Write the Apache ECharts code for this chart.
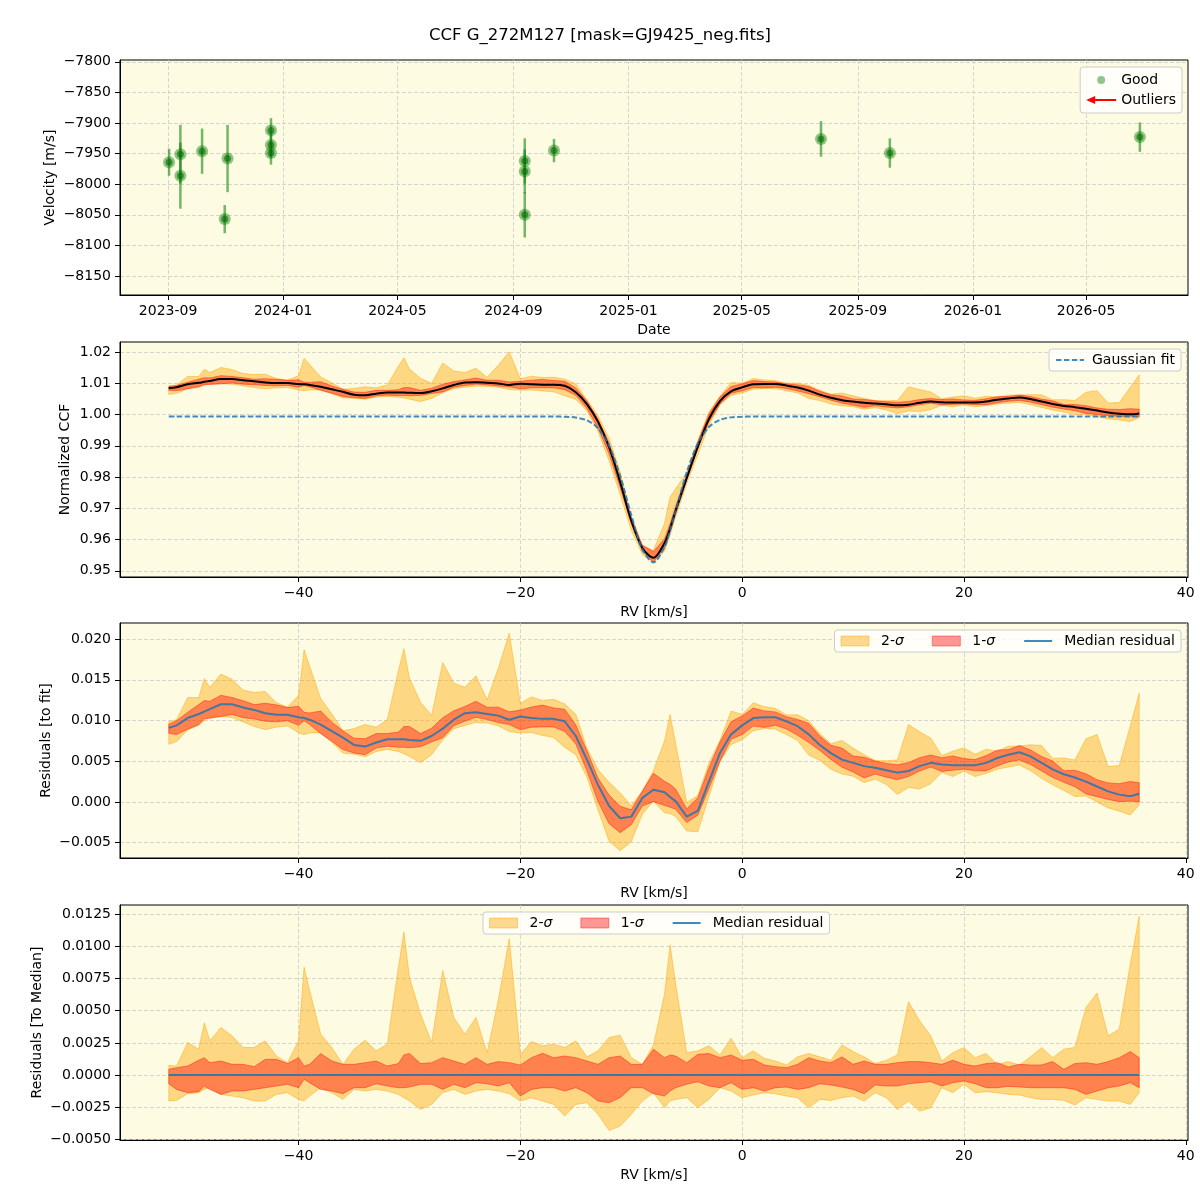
<!DOCTYPE html>
<html>
<head>
<meta charset="utf-8">
<script src="https://cdn.jsdelivr.net/npm/echarts@6/dist/echarts.min.js"></script>
<style>
 html, body { margin: 0; background: #fff; }
 #chart { width: 1200px; height: 1200px; }
</style>
</head>
<body>
<div id="chart"></div>
<script>
// --- RV time series (top panel) ---
const obsDates = ['2023-09-02', '2023-09-14', '2023-09-14', '2023-10-07', '2023-10-31', '2023-11-03',
 '2023-12-19', '2023-12-19', '2023-12-19', '2024-09-13', '2024-09-13', '2024-09-13',
 '2024-10-14', '2025-07-24', '2025-10-05', '2026-06-27']
const obsVel = [-7964, -7951, -7986, -7946, -8057, -7958,
 -7912, -7936, -7949, -7962, -7979, -8050,
 -7945, -7926, -7949, -7923]
const obsErr = [22, 48, 54, 37, 23, 55,
 20, 20, 19, 37, 36, 37,
 19, 29, 24, 24]

// --- CCF grid [km/s] ---
const rv = [
 -51.7, -51, -50, -49, -48.5, -48, -47, -46, -45, -44,
 -43, -42, -41, -40, -39.5, -39, -38, -37, -36, -35,
 -34, -33, -32, -31, -30.5, -30, -29, -28, -27, -26,
 -25, -24, -23, -22, -21, -20, -19, -18, -17, -16,
 -15, -14, -13, -12, -11, -10, -9, -8, -7, -6.5,
 -6, -5, -4, -3, -2, -1, 0, 1, 2, 3,
 4, 5, 6, 7, 8, 9, 10, 11, 12, 13,
 14, 15, 16, 17, 18, 19, 20, 21, 22, 23,
 24, 25, 26, 27, 28, 29, 30, 31, 32, 33,
 34, 35, 35.8
]

// gaussian fit to the CCF
const gaussFit = [
 0.99935, 0.99935, 0.99935, 0.99935, 0.99935, 0.99935, 0.99935, 0.99935, 0.99935, 0.99935,
 0.99935, 0.99935, 0.99935, 0.99935, 0.99935, 0.99935, 0.99935, 0.99935, 0.99935, 0.99935,
 0.99935, 0.99935, 0.99935, 0.99935, 0.99935, 0.99935, 0.99935, 0.99935, 0.99935, 0.99935,
 0.99935, 0.99935, 0.99935, 0.99935, 0.99935, 0.99935, 0.99935, 0.99935, 0.99934, 0.99928,
 0.99903, 0.99815, 0.99563, 0.99003, 0.98035, 0.96782, 0.95680, 0.95265, 0.95768, 0.96291,
 0.96909, 0.98149, 0.99077, 0.99600, 0.99829, 0.99908, 0.99929, 0.99935, 0.99935, 0.99935,
 0.99935, 0.99935, 0.99935, 0.99935, 0.99935, 0.99935, 0.99935, 0.99935, 0.99935, 0.99935,
 0.99935, 0.99935, 0.99935, 0.99935, 0.99935, 0.99935, 0.99935, 0.99935, 0.99935, 0.99935,
 0.99935, 0.99935, 0.99935, 0.99935, 0.99935, 0.99935, 0.99935, 0.99935, 0.99935, 0.99935,
 0.99935, 0.99935, 0.99935
]

// median residual (CCF - fit)
const medResid = [
 0.0091, 0.0094, 0.0103, 0.0108, 0.0111, 0.0114, 0.0120, 0.0120, 0.0116, 0.0113,
 0.0109, 0.0107, 0.0107, 0.0104, 0.0103, 0.0101, 0.0095, 0.0087, 0.0079, 0.0070,
 0.0068, 0.0073, 0.0077, 0.0077, 0.0077, 0.0076, 0.0075, 0.0081, 0.0090, 0.0101,
 0.0109, 0.0110, 0.0108, 0.0106, 0.0101, 0.0105, 0.0103, 0.0102, 0.0102, 0.0099,
 0.0081, 0.0052, 0.0021, -0.0005, -0.0020, -0.0018, 0.0005, 0.0015, 0.0012, 0.0006,
 0.0001, -0.0018, -0.0011, 0.0025, 0.0060, 0.0083, 0.0094, 0.0103, 0.0104, 0.0104,
 0.0099, 0.0093, 0.0083, 0.0070, 0.0060, 0.0052, 0.0048, 0.0044, 0.0042, 0.0039,
 0.0036, 0.0038, 0.0044, 0.0048, 0.0046, 0.0045, 0.0045, 0.0045, 0.0048, 0.0054,
 0.0058, 0.0061, 0.0056, 0.0048, 0.0040, 0.0034, 0.0030, 0.0025, 0.0019, 0.0013,
 0.0009, 0.0007, 0.0010
]

// band edges relative to the median
const hi2 = [
 7.6e-4, 7.0e-4, 25.3e-4, 20.1e-4, 40.6e-4, 26.6e-4, 37.0e-4, 30.5e-4, 21.4e-4, 21.4e-4,
 26.6e-4, 14.8e-4, 9.6e-4, 26.6e-4, 83.9e-4, 65.6e-4, 31.8e-4, 21.4e-4, 8.3e-4, 20.1e-4,
 27.1e-4, 18.8e-4, 24.0e-4, 83.9e-4, 111.2e-4, 76.0e-4, 47.4e-4, 25.3e-4, 81.3e-4, 44.8e-4,
 31.8e-4, 44.8e-4, 17.4e-4, 57.8e-4, 106.0e-4, 16.1e-4, 26.0e-4, 22.7e-4, 24.0e-4, 21.4e-4,
 26.6e-4, 14.1e-4, 18.8e-4, 29.2e-4, 31.0e-4, 13.5e-4, 8.3e-4, 23.4e-4, 63.0e-4, 101.3e-4,
 70.8e-4, 17.4e-4, 18.8e-4, 22.7e-4, 15.6e-4, 28.6e-4, 13.5e-4, 18.8e-4, 13.0e-4, 10.9e-4,
 7.8e-4, 14.1e-4, 16.7e-4, 14.1e-4, 11.5e-4, 23.4e-4, 18.2e-4, 14.1e-4, 8.9e-4, 11.5e-4,
 15.6e-4, 57.0e-4, 42.2e-4, 30.5e-4, 10.9e-4, 17.4e-4, 21.4e-4, 13.5e-4, 16.7e-4, 8.3e-4,
 10.4e-4, 7.8e-4, 14.1e-4, 21.4e-4, 13.5e-4, 20.1e-4, 21.4e-4, 52.6e-4, 63.8e-4, 30.5e-4,
 35.7e-4, 86.5e-4, 123.4e-4
]
const lo2 = [
 -20.3e-4, -19.8e-4, -14.6e-4, -13.8e-4, -11.2e-4, -9.9e-4, -15.1e-4, -16.4e-4, -17.7e-4, -20.3e-4,
 -20.3e-4, -15.1e-4, -13.8e-4, -19.0e-4, -20.3e-4, -16.4e-4, -9.9e-4, -13.8e-4, -19.0e-4, -11.2e-4,
 -12.5e-4, -11.2e-4, -12.5e-4, -15.1e-4, -17.7e-4, -20.3e-4, -26.8e-4, -22.9e-4, -13.8e-4, -11.2e-4,
 -15.1e-4, -12.5e-4, -11.2e-4, -12.5e-4, -14.6e-4, -20.3e-4, -17.7e-4, -20.3e-4, -22.9e-4, -32.0e-4,
 -22.9e-4, -21.6e-4, -30.7e-4, -43.2e-4, -39.8e-4, -30.7e-4, -20.3e-4, -13.8e-4, -25.5e-4, -20.3e-4,
 -19.0e-4, -17.7e-4, -25.5e-4, -19.0e-4, -9.9e-4, -12.5e-4, -17.7e-4, -15.6e-4, -13.8e-4, -14.6e-4,
 -16.4e-4, -17.7e-4, -25.5e-4, -19.0e-4, -19.8e-4, -17.7e-4, -16.4e-4, -20.3e-4, -13.8e-4, -17.7e-4,
 -26.8e-4, -20.3e-4, -28.1e-4, -25.5e-4, -9.9e-4, -13.8e-4, -7.3e-4, -13.8e-4, -13.0e-4, -13.8e-4,
 -15.1e-4, -15.6e-4, -17.7e-4, -19.0e-4, -19.0e-4, -19.8e-4, -23.4e-4, -17.7e-4, -19.0e-4, -20.3e-4,
 -20.3e-4, -22.9e-4, -13.8e-4
]
const hi1 = [
 4.4e-4, 5.7e-4, 7.0e-4, 11.5e-4, 13.5e-4, 9.6e-4, 10.9e-4, 8.3e-4, 8.3e-4, 6.5e-4,
 12.2e-4, 12.2e-4, 8.9e-4, 13.5e-4, 7.0e-4, 8.3e-4, 16.7e-4, 10.9e-4, 8.3e-4, 8.3e-4,
 9.6e-4, 10.9e-4, 7.0e-4, 8.9e-4, 15.6e-4, 16.7e-4, 8.9e-4, 9.6e-4, 13.5e-4, 10.9e-4,
 8.3e-4, 13.5e-4, 8.3e-4, 10.4e-4, 9.6e-4, 7.8e-4, 13.5e-4, 16.9e-4, 13.5e-4, 14.8e-4,
 13.5e-4, 10.9e-4, 8.3e-4, 13.5e-4, 14.8e-4, 8.3e-4, 8.3e-4, 20.1e-4, 13.5e-4, 15.6e-4,
 14.8e-4, 9.6e-4, 16.1e-4, 16.7e-4, 13.5e-4, 15.6e-4, 11.5e-4, 12.2e-4, 7.8e-4, 6.5e-4,
 5.7e-4, 8.3e-4, 13.5e-4, 10.9e-4, 9.6e-4, 14.1e-4, 8.3e-4, 10.9e-4, 8.3e-4, 8.3e-4,
 9.6e-4, 10.4e-4, 10.4e-4, 9.6e-4, 8.3e-4, 11.5e-4, 8.3e-4, 7.0e-4, 8.9e-4, 9.6e-4,
 6.3e-4, 8.3e-4, 7.8e-4, 7.8e-4, 10.4e-4, 4.4e-4, 8.9e-4, 9.6e-4, 8.3e-4, 10.4e-4,
 13.5e-4, 18.2e-4, 13.5e-4
]
const lo1 = [
 -6.8e-4, -11.2e-4, -13.8e-4, -13.0e-4, -8.6e-4, -11.2e-4, -15.1e-4, -12.5e-4, -12.5e-4, -11.2e-4,
 -9.9e-4, -8.6e-4, -7.3e-4, -9.9e-4, -3.4e-4, -6.0e-4, -11.2e-4, -12.5e-4, -14.6e-4, -9.9e-4,
 -9.9e-4, -6.8e-4, -8.6e-4, -9.9e-4, -9.9e-4, -9.4e-4, -7.3e-4, -7.3e-4, -11.2e-4, -7.3e-4,
 -9.9e-4, -6.0e-4, -6.8e-4, -8.6e-4, -6.0e-4, -16.4e-4, -11.2e-4, -9.9e-4, -9.9e-4, -12.5e-4,
 -9.9e-4, -13.8e-4, -20.3e-4, -21.6e-4, -17.7e-4, -9.9e-4, -9.9e-4, -14.6e-4, -16.4e-4, -12.5e-4,
 -9.9e-4, -7.3e-4, -5.2e-4, -8.6e-4, -9.9e-4, -6.0e-4, -11.2e-4, -9.9e-4, -12.5e-4, -9.9e-4,
 -9.4e-4, -11.2e-4, -9.9e-4, -6.8e-4, -7.8e-4, -9.4e-4, -11.2e-4, -14.6e-4, -7.8e-4, -8.6e-4,
 -8.6e-4, -6.8e-4, -6.0e-4, -5.2e-4, -8.6e-4, -6.0e-4, -4.7e-4, -6.8e-4, -9.9e-4, -9.9e-4,
 -8.9e-4, -9.4e-4, -9.9e-4, -9.9e-4, -9.9e-4, -9.9e-4, -11.2e-4, -15.1e-4, -12.5e-4, -9.9e-4,
 -8.6e-4, -6.0e-4, -9.9e-4
]

// --- ticks ---
const dateTicks = ['2023-09-01', '2024-01-01', '2024-05-01', '2024-09-01', '2025-01-01',
 '2025-05-01', '2025-09-01', '2026-01-01', '2026-05-01']
const velTicks = [-8150, -8100, -8050, -8000, -7950, -7900, -7850, -7800]
const rvTicks = [-40, -20, 0, 20, 40]
const ccfTicks = [0.95, 0.96, 0.97, 0.98, 0.99, 1.00, 1.01, 1.02]
const resTicks = [-0.005, 0, 0.005, 0.010, 0.015, 0.020]
const medTicks = [-0.005, -0.0025, 0, 0.0025, 0.005, 0.0075, 0.010, 0.0125]

const font = 'DejaVu Sans'
const bg = '#fdfbe1'
const orangeFill = 'rgba(255,165,0,0.42)'
const orangeEdge = 'rgba(255,165,0,0.45)'
const redFill = 'rgba(255,0,0,0.4)'
const redEdge = 'rgba(255,0,0,0.4)'
const blue = 'rgba(31,119,180,0.85)'

const minus = s => String(s).replace('-', '\u2212')
const label = { fontFamily: font, fontSize: 14, color: '#000' }
const splitLine = { show: true, lineStyle: { color: '#cccccc', type: [4, 2], width: 0.8 } }
const axisLine = { show: true, onZero: false, lineStyle: { color: '#000', width: 1 } }

const grids = [60, 342, 623, 905].map(top => ({
 left: 120, width: 1068, top, height: 235,
 show: true, backgroundColor: bg, borderColor: '#000', borderWidth: 1
}))

function rvAxis(i) {
 return {
 type: 'value', gridIndex: i, min: -56.1, max: 40.2,
 name: 'RV [km/s]', nameLocation: 'middle', nameGap: 28, nameTextStyle: label,
 axisLine,
 axisTick: { show: true, customValues: rvTicks, length: 5, lineStyle: { color: '#000' } },
 axisLabel: { ...label, customValues: rvTicks, margin: 9, formatter: v => minus(v) },
 splitLine
 }
}

function valAxis(i, min, max, ticks, digits, name, nameGap) {
 return {
 type: 'value', gridIndex: i, min, max,
 name, nameLocation: 'middle', nameGap, nameMoveOverlap: false, nameTextStyle: label,
 axisLine,
 axisTick: { show: true, customValues: ticks, length: 5, lineStyle: { color: '#000' } },
 axisLabel: { ...label, customValues: ticks, margin: 9, formatter: v => minus(v.toFixed(digits)) },
 splitLine
 }
}

// filled band between two edge arrays (one polygon through the axis scales)
function band(axis, lower, upper, fill, edge, name) {
 const s = {
 type: 'custom', xAxisIndex: axis, yAxisIndex: axis, silent: true,
 data: [[rv[0], lower[0]]], encode: { x: 0, y: 1 },
 itemStyle: { color: fill },
 renderItem: (params, api) => {
 const top = rv.map((r, i) => api.coord([r, upper[i]]))
 const bot = rv.map((r, i) => api.coord([r, lower[i]])).reverse()
 return { type: 'polygon', shape: { points: top.concat(bot) },
 style: { fill, stroke: edge, lineWidth: 1 } }
 }
 }
 if (name) s.name = name
 return s
}

const ccfMedian = rv.map((r, i) => medResid[i] + gaussFit[i])
const obs = obsDates.map((d, i) => [Date.parse(d), obsVel[i], obsErr[i]])
const dateTickVals = dateTicks.map(d => Date.parse(d))

const series = [
 // panel 1
 {
 type: 'custom', xAxisIndex: 0, yAxisIndex: 0, data: obs, encode: { x: 0, y: 1 }, z: 2,
 renderItem: (params, api) => {
 const t = api.value(0), v = api.value(1), e = api.value(2)
 const a = api.coord([t, v - e]), b = api.coord([t, v + e])
 return { type: 'line', shape: { x1: a[0], y1: a[1], x2: b[0], y2: b[1] },
 style: { stroke: 'rgba(0,128,0,0.55)', lineWidth: 2.5 } }
 }
 },
 { type: 'scatter', xAxisIndex: 0, yAxisIndex: 0, data: obs, symbolSize: 12, z: 3,
 itemStyle: { color: 'rgba(0,128,0,0.55)' } },
 { type: 'scatter', name: 'Good', xAxisIndex: 0, yAxisIndex: 0, data: obs, symbolSize: 7, z: 4,
 itemStyle: { color: 'rgba(0,100,0,0.7)' } },
 { type: 'line', name: 'Outliers', xAxisIndex: 0, yAxisIndex: 0, data: [],
 itemStyle: { color: 'red' }, lineStyle: { color: 'red' } },

 // panel 2: CCF
 band(1, ccfMedian.map((m, i) => m + lo2[i]), ccfMedian.map((m, i) => m + hi2[i]), orangeFill, orangeEdge),
 band(1, ccfMedian.map((m, i) => m + lo1[i]), ccfMedian.map((m, i) => m + hi1[i]), redFill, redEdge),
 { type: 'line', xAxisIndex: 1, yAxisIndex: 1, data: rv.map((r, i) => [r, ccfMedian[i]]),
 symbol: 'none', smooth: 0.3, lineStyle: { color: '#000', width: 2 }, z: 3 },
 { type: 'line', name: 'Gaussian fit', xAxisIndex: 1, yAxisIndex: 1, data: rv.map((r, i) => [r, gaussFit[i]]),
 symbol: 'none', smooth: 0.3, itemStyle: { color: blue }, lineStyle: { color: blue, width: 2, type: [5.5, 2.4] }, z: 4 },

 // panel 3: residuals to fit
 band(2, medResid.map((m, i) => m + lo2[i]), medResid.map((m, i) => m + hi2[i]), orangeFill, orangeEdge, '2-σ'),
 band(2, medResid.map((m, i) => m + lo1[i]), medResid.map((m, i) => m + hi1[i]), redFill, redEdge, '1-σ'),
 { type: 'line', name: 'Median residual', xAxisIndex: 2, yAxisIndex: 2, data: rv.map((r, i) => [r, medResid[i]]),
 symbol: 'none', itemStyle: { color: blue }, lineStyle: { color: blue, width: 2 }, z: 3 },

 // panel 4: residuals to median
 band(3, lo2, hi2, orangeFill, orangeEdge, '2-σ'),
 band(3, lo1, hi1, redFill, redEdge, '1-σ'),
 { type: 'line', name: 'Median residual', xAxisIndex: 3, yAxisIndex: 3, data: rv.map(r => [r, 0]),
 symbol: 'none', itemStyle: { color: blue }, lineStyle: { color: blue, width: 2 }, z: 3 }
]

const legendBase = {
 backgroundColor: 'rgba(255,255,255,0.8)', borderColor: '#cccccc', borderWidth: 1, borderRadius: 3,
 textStyle: { ...label, rich: { i: { fontFamily: font, fontSize: 14, fontStyle: 'italic', color: '#000' } } },
 formatter: n => n.replace('σ', '{i|σ}'), selectedMode: false
}
const bandLegendData = [
 { name: '2-σ', icon: 'rect', itemStyle: { color: orangeFill, borderColor: orangeEdge, borderWidth: 1 } },
 { name: '1-σ', icon: 'rect', itemStyle: { color: redFill, borderColor: redEdge, borderWidth: 1 } },
 { name: 'Median residual', itemStyle: { opacity: 0 } }
]
const bandLegendText = { ...legendBase.textStyle, padding: [0, 0, 0, 7] }

const option = {
 animation: false,
 backgroundColor: '#fff',
 title: {
 text: 'CCF G_272M127 [mask=GJ9425_neg.fits]', left: 'center', top: 22,
 textStyle: { fontFamily: font, fontSize: 16.5, fontWeight: 'normal', color: '#000' }
 },
 grid: grids,
 legend: [
 { ...legendBase, orient: 'vertical', right: 18, top: 67, padding: [6, 6, 6, 6], itemGap: 6,
 itemWidth: 30, itemHeight: 8,
 data: [{ name: 'Good', icon: 'circle', itemStyle: { color: 'rgba(0,128,0,0.55)' } },
 { name: 'Outliers', icon: 'path://M0,4L9,0L9,3L30,3L30,5L9,5L9,8Z', itemStyle: { color: 'red' } }] },
 { ...legendBase, right: 19, top: 349, padding: [4, 6, 4, 6], itemWidth: 28, itemHeight: 10,
 textStyle: { ...legendBase.textStyle, padding: [0, 0, 0, 3] },
 data: [{ name: 'Gaussian fit', itemStyle: { opacity: 0 } }] },
 { ...legendBase, right: 19, top: 630, padding: [4, 6, 4, 6], itemWidth: 28, itemHeight: 10, itemGap: 28,
 textStyle: bandLegendText, data: bandLegendData },
 { ...legendBase, left: 483, top: 912, padding: [4, 6, 4, 6], itemWidth: 28, itemHeight: 10, itemGap: 28,
 textStyle: bandLegendText, data: bandLegendData }
 ],
 xAxis: [
 {
 type: 'value', gridIndex: 0, min: Date.parse('2023-07-12'), max: Date.parse('2026-08-17'),
 name: 'Date', nameLocation: 'middle', nameGap: 28, nameTextStyle: label,
 axisLine,
 axisTick: { show: true, customValues: dateTickVals, length: 5, lineStyle: { color: '#000' } },
 axisLabel: {
 ...label, margin: 9, customValues: dateTickVals,
 formatter: v => {
 const d = new Date(v)
 return d.getUTCFullYear() + '-' + String(d.getUTCMonth() + 1).padStart(2, '0')
 }
 },
 splitLine
 },
 rvAxis(1), rvAxis(2), rvAxis(3)
 ],
 yAxis: [
 valAxis(0, -8181, -7797, velTicks, 0, 'Velocity [m/s]', 63),
 valAxis(1, 0.948, 1.0232, ccfTicks, 2, 'Normalized CCF', 48),
 valAxis(2, -0.00688, 0.02197, resTicks, 3, 'Residuals [to fit]', 67),
 valAxis(3, -0.00506, 0.01323, medTicks, 4, 'Residuals [To Median]', 76)
 ],
 series
}

const chart = echarts.init(document.getElementById('chart'))
chart.setOption(option)
window.addEventListener('resize', () => chart.resize())
</script>
</body>
</html>
